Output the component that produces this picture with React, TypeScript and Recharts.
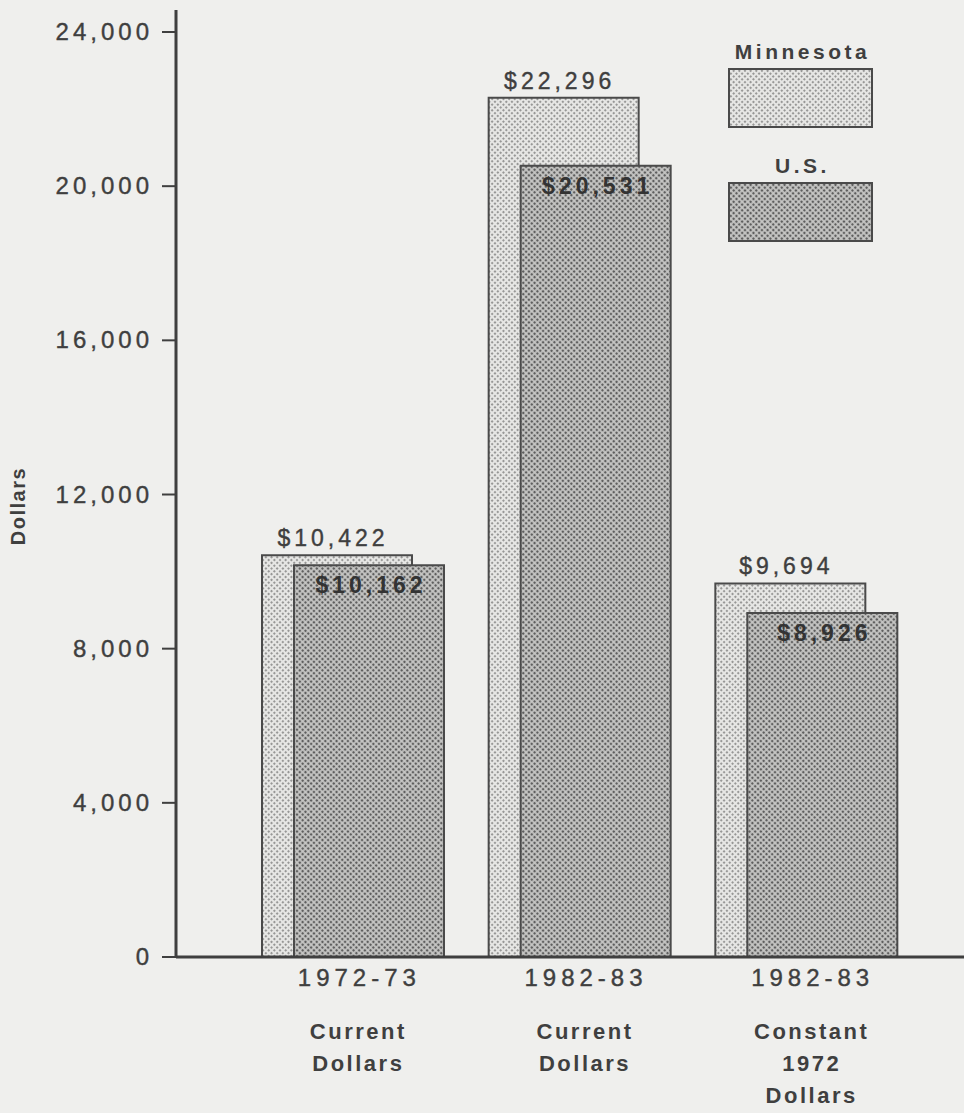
import React from 'react';
import { BarChart, Bar, XAxis, YAxis, Legend, LabelList } from 'recharts';

const periods = ['1972-73', '1982-83', '1982-83'];
const captions = [['Current', 'Dollars'], ['Current', 'Dollars'], ['Constant', '1972', 'Dollars']];
const minnesota = [10422, 22296, 9694];
const us = [10162, 20531, 8926];
const yTicks = [0, 4000, 8000, 12000, 16000, 20000, 24000];

const data = periods.map((p, i) => ({
  key: `${p} ${captions[i].join(' ')}`,
  period: p,
  mn: minnesota[i],
  us: us[i],
}));

const INK = '#3f3f3f';
const FONT = '"Liberation Sans", Arial, Helvetica, sans-serif';
const money = (v: number) => '$' + v.toLocaleString('en-US');

function Dots({ id, bg, dot, r }: { id: string; bg: string; dot: string; r: number }) {
  return (
    <pattern id={id} width="4" height="4" patternUnits="userSpaceOnUse" patternTransform="rotate(45)">
      <rect width="4" height="4" fill={bg} />
      <circle cx="2" cy="2" r={r} fill={dot} />
    </pattern>
  );
}

// regular text drawn a touch heavier, like the old typeset numbers
const heavy = { stroke: INK, strokeWidth: 0.4 };

const YTick = (props: any) => {
  const { x, y, payload } = props;
  return (
    <text x={x + 1} y={y + 8} textAnchor="end" fontSize={24} fill={INK} fontFamily={FONT} letterSpacing={4} {...heavy}>
      {payload.value.toLocaleString('en-US')}
    </text>
  );
};

const XTick = (props: any) => {
  const { x, y, payload } = props;
  const i = payload.index;
  return (
    <g>
      <text x={x + 6} y={y + 21} textAnchor="middle" fontSize={24} fill={INK} fontFamily={FONT} letterSpacing={5} {...heavy}>
        {periods[i]}
      </text>
      {captions[i].map((line, k) => (
        <text
          key={k}
          x={x + 5}
          y={y + 74 + k * 32}
          textAnchor="middle"
          fontSize={22}
          fontWeight="bold"
          fill={INK}
          fontFamily={FONT}
          letterSpacing={2.5}
        >
          {line}
        </text>
      ))}
    </g>
  );
};

const MnLabel = (props: any) => {
  const { x, y, width, value } = props;
  return (
    <text x={x + width / 2 - 4} y={y - 9} textAnchor="middle" fontSize={23} fill={INK} fontFamily={FONT} letterSpacing={4} {...heavy}>
      {money(value)}
    </text>
  );
};

const UsLabel = (props: any) => {
  const { x, y, width, value } = props;
  return (
    <text
      x={x + width / 2 + 2}
      y={y + 28}
      textAnchor="middle"
      fontSize={23}
      fontWeight="bold"
      fill="#333"
      fontFamily={FONT}
      letterSpacing={4}
    >
      {money(value)}
    </text>
  );
};

const legendItems = [
  { name: 'Minnesota', pid: 'lgMn', bg: '#e6e6e4', dot: '#7c7c7c', r: 1 },
  { name: 'U.S.', pid: 'lgUs', bg: '#c6c6c4', dot: '#5e5e5e', r: 1.3 },
];

const LegendBox = () => (
  <div style={{ position: 'relative', width: 146, height: 0, fontFamily: FONT }}>
    {legendItems.map((it, i) => (
      <div key={it.name} style={{ position: 'absolute', left: 0, top: i * 114, width: 146 }}>
        <div style={{ textAlign: 'center', fontSize: 21, fontWeight: 'bold', color: INK, letterSpacing: 3.5, lineHeight: '24px', paddingLeft: 3 }}>
          {it.name}
        </div>
        <svg width={146} height={62} style={{ display: 'block', marginTop: 4 }}>
          <defs>
            <Dots id={it.pid} bg={it.bg} dot={it.dot} r={it.r} />
          </defs>
          <rect x={1} y={1} width={143} height={58} fill={`url(#${it.pid})`} stroke="#4a4a4a" strokeWidth={2} />
        </svg>
      </div>
    ))}
  </div>
);

export default function App() {
  return (
    <div style={{ position: 'absolute', left: 0, top: 0, width: 964, height: 1113, overflow: 'hidden', background: '#efefed' }}>
      <BarChart
        width={972}
        height={1113}
        data={data}
        margin={{ top: 10, right: 0, bottom: 0, left: 0 }}
        barSize={150}
        barGap={-118}
      >
        <defs>
          <Dots id="mnDots" bg="#e6e6e4" dot="#7c7c7c" r={1} />
          <Dots id="usDots" bg="#c6c6c4" dot="#5e5e5e" r={1.3} />
        </defs>
        <XAxis
          dataKey="key"
          height={156}
          tickLine={false}
          axisLine={{ stroke: INK, strokeWidth: 3 }}
          tick={<XTick />}
          padding={{ left: 64, right: 52 }}
          interval={0}
        />
        <XAxis
          xAxisId="top"
          orientation="top"
          dataKey="key"
          height={0}
          tick={false}
          tickLine={false}
          axisLine={{ stroke: INK, strokeWidth: 3 }}
        />
        <YAxis
          width={176}
          domain={[0, 24571]}
          ticks={yTicks}
          interval={0}
          tickSize={14}
          tickMargin={10}
          tickLine={{ stroke: INK, strokeWidth: 2 }}
          axisLine={{ stroke: INK, strokeWidth: 3 }}
          tick={<YTick />}
          label={{
            content: () => (
              <text
                x={25}
                y={506}
                transform="rotate(-90 25 506)"
                textAnchor="middle"
                fontSize={20}
                fontWeight="bold"
                fill={INK}
                fontFamily={FONT}
                letterSpacing={1.5}
              >
                Dollars
              </text>
            ),
          }}
        />
        <Legend
          content={<LegendBox />}
          verticalAlign="top"
          wrapperStyle={{ position: 'absolute', left: 728, top: 40, width: 146, height: 0 }}
        />
        <Bar dataKey="mn" name="Minnesota" fill="url(#mnDots)" stroke="#4a4a4a" strokeWidth={2} isAnimationActive={false}>
          <LabelList dataKey="mn" content={<MnLabel />} />
        </Bar>
        <Bar dataKey="us" name="U.S." fill="url(#usDots)" stroke="#4a4a4a" strokeWidth={2} isAnimationActive={false}>
          <LabelList dataKey="us" content={<UsLabel />} />
        </Bar>
      </BarChart>
    </div>
  );
}
